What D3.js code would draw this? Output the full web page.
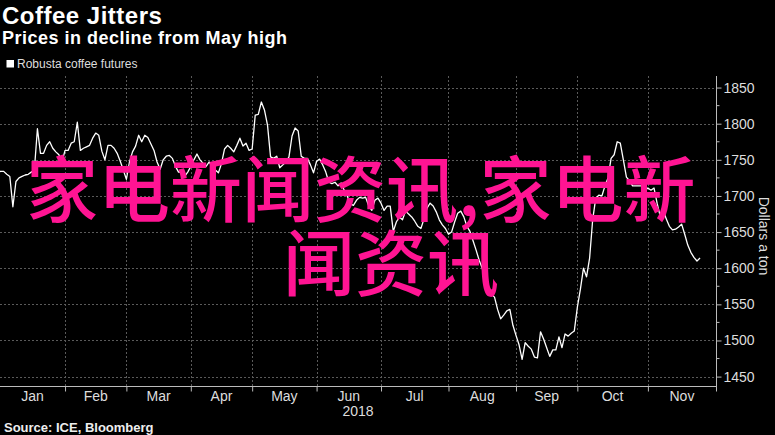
<!DOCTYPE html>
<html>
<head>
<meta charset="utf-8">
<script src="https://cdn.jsdelivr.net/npm/d3@7/dist/d3.min.js"></script>
<style>
  html, body { margin: 0; padding: 0; background: #000; }
  svg { display: block; }
</style>
</head>
<body>
<svg id="chart" width="775" height="435"></svg>
<script>
// ---- Data (trading-day index from 2 Jan 2018, Robusta futures $/ton) ----
const prices = [
  1733,1734,1734,1730,1727,1685,1720,1725,1727,1729,
  1730,1733,1736,1793,1759,1759,1770,1775,1766,1761,
  1757,1747,1763,1763,1773,1775,1802,1763,1766,1768,
  1770,1780,1787,1784,1762,1750,1770,1770,1766,1759,
  1748,1736,1723,1747,1761,1769,1784,1775,1784,1781,
  1772,1763,1747,1737,1750,1755,1756,1752,1741,1733,
  1733,1727,1733,1741,1750,1758,1750,1745,1741,1747,
  1740,1736,1732,1745,1765,1770,1766,1761,1770,1780,
  1769,1773,1763,1765,1812,1813,1830,1819,1798,1754,
  1752,1755,1739,1743,1747,1754,1783,1794,1790,1755,
  1752,1752,1743,1732,1748,1751,1743,1733,1719,1717,
  1719,1714,1718,1708,1700,1689,1687,1694,1698,1697,
  1698,1686,1680,1694,1697,1690,1680,1686,1686,1651,
  1664,1671,1667,1679,1675,1671,1665,1658,1655,1668,
  1683,1690,1686,1678,1667,1660,1655,1647,1650,1664,
  1676,1679,1671,1658,1651,1638,1625,1611,1600,1580,
  1563,1564,1560,1543,1530,1535,1541,1543,1521,1507,
  1494,1474,1497,1492,1488,1477,1476,1512,1502,1490,
  1478,1487,1487,1505,1490,1509,1506,1510,1513,1546,
  1571,1600,1588,1614,1667,1697,1701,1700,1714,1725,
  1752,1757,1775,1773,1750,1726,1721,1714,1714,1714,
  1714,1707,1711,1708,1711,1690,1672,1681,1668,1658,
  1653,1654,1657,1661,1647,1632,1622,1615,1610,1614
];
const months = ["Jan","Feb","Mar","Apr","May","Jun","Jul","Aug","Sep","Oct","Nov"];
const monthStartDay = [0,22,42,63,83,104,125,147,169,189,212];
const yTicks = [1450,1500,1550,1600,1650,1700,1750,1800,1850];
const yMinorTicks = [1475,1525,1575,1625,1675,1725,1775,1825];
const yearLabel = "2018";
const title = "Coffee Jitters";
const subtitle = "Prices in decline from May high";
const legendLabel = "Robusta coffee futures";
const yAxisTitle = "Dollars a ton";
const source = "Source: ICE, Bloomberg";
const overlayLines = ["家电新闻资讯,家电新", "闻资讯"];

// ---- Layout ----
const svg = d3.select("#chart");
const plot = { left: 0, right: 716, top: 76, bottom: 386 };
const dayDomain = [0.8, 234.2];
const x = d3.scaleLinear().domain(dayDomain).range([plot.left, plot.right]);
const y = d3.scaleLinear().domain([1437, 1866]).range([plot.bottom, plot.top]);
const FONT = "'Liberation Sans', Arial, sans-serif";

svg.append("rect").attr("width", 775).attr("height", 435).attr("fill", "#000");

// Titles
svg.append("text").attr("x", 2).attr("y", 23.5).text(title)
  .attr("fill", "#fff").attr("font-family", FONT).attr("font-weight", "bold")
  .attr("font-size", 24).attr("letter-spacing", 0.5);
svg.append("text").attr("x", 2).attr("y", 43.5).text(subtitle)
  .attr("fill", "#fff").attr("font-family", FONT).attr("font-weight", "bold")
  .attr("font-size", 18).attr("letter-spacing", 0.5);

// Legend
svg.append("rect").attr("x", 6.5).attr("y", 60).attr("width", 7.5).attr("height", 7.5).attr("fill", "#fff");
svg.append("text").attr("x", 17).attr("y", 68.3).text(legendLabel)
  .attr("fill", "#ddd").attr("font-family", FONT).attr("font-size", 12);

// Grid
const grid = svg.append("g").attr("stroke", "#5a5a5a").attr("stroke-width", 1).attr("stroke-dasharray", "2,2");
grid.selectAll("line.h").data(yTicks).join("line")
  .attr("x1", plot.left).attr("x2", plot.right)
  .attr("y1", d => Math.round(y(d)) + 0.5).attr("y2", d => Math.round(y(d)) + 0.5);
grid.selectAll("line.v").data(monthStartDay.slice(1)).join("line")
  .attr("x1", d => Math.round(x(d)) + 0.5).attr("x2", d => Math.round(x(d)) + 0.5)
  .attr("y1", plot.top).attr("y2", plot.bottom);

// Right axis
const yAxis = d3.axisRight(y).tickValues(yTicks).tickSize(5).tickPadding(2).tickFormat(d3.format("d"));
const gy = svg.append("g").attr("transform", `translate(${plot.right + 0.5},0)`).call(yAxis);
gy.select(".domain").attr("stroke", "#bbb").attr("d", `M0,${plot.top}V${plot.bottom}`);
gy.selectAll(".tick line").attr("stroke", "#bbb");
gy.selectAll(".tick text").attr("fill", "#ddd").attr("font-family", FONT).attr("font-size", 14);
const gyMinor = svg.append("g").attr("transform", `translate(${plot.right + 0.5},0)`);
gyMinor.selectAll("line").data(yMinorTicks).join("line")
  .attr("x1", 0).attr("x2", 3).attr("y1", d => y(d)).attr("y2", d => y(d)).attr("stroke", "#bbb");

svg.append("text").text(yAxisTitle)
  .attr("transform", `translate(759,236) rotate(90)`)
  .attr("text-anchor", "middle").attr("fill", "#ddd").attr("font-family", FONT).attr("font-size", 14);

// Bottom axis
const xAxis = d3.axisBottom(x).tickValues(monthStartDay.slice(1)).tickSize(5).tickFormat("");
const gx = svg.append("g").attr("transform", `translate(0,${plot.bottom + 0.5})`).call(xAxis);
gx.select(".domain").attr("stroke", "#bbb").attr("d", `M${plot.left},0H${plot.right + 1}`);
gx.selectAll(".tick line").attr("stroke", "#bbb");
gx.append("line").attr("x1", plot.right + 0.5).attr("x2", plot.right + 0.5).attr("y1", 0).attr("y2", 5).attr("stroke", "#bbb");

const monthCenters = months.map((m, k) => {
  const a = Math.max(monthStartDay[k], dayDomain[0]);
  const b = k + 1 < monthStartDay.length ? monthStartDay[k + 1] : dayDomain[1];
  return { m, c: (a + b) / 2 };
});
svg.append("g").selectAll("text").data(monthCenters).join("text")
  .attr("x", d => x(d.c)).attr("y", 400.5).attr("text-anchor", "middle").text(d => d.m)
  .attr("fill", "#ddd").attr("font-family", FONT).attr("font-size", 14);
svg.append("text").attr("x", x((dayDomain[0] + dayDomain[1]) / 2)).attr("y", 416)
  .attr("text-anchor", "middle").text(yearLabel)
  .attr("fill", "#ddd").attr("font-family", FONT).attr("font-size", 14);

// Price line
const line = d3.line().x((d, i) => x(i)).y(d => y(d));
svg.append("defs").append("clipPath").attr("id", "clip")
  .append("rect").attr("x", plot.left).attr("y", plot.top).attr("width", plot.right - plot.left).attr("height", plot.bottom - plot.top);
svg.append("path").datum(prices).attr("d", line).attr("clip-path", "url(#clip)")
  .attr("fill", "none").attr("stroke", "#fff").attr("stroke-width", 1.3).attr("stroke-linejoin", "round");

// Source
svg.append("text").attr("x", 4).attr("y", 431.5).text(source)
  .attr("fill", "#eee").attr("font-family", FONT).attr("font-weight", "bold").attr("font-size", 13);

// Pink overlay text
const overlay = svg.append("g").attr("fill", "#ff1493")
  .attr("font-family", "'Noto Sans CJK SC', sans-serif").attr("font-size", 72).attr("font-weight", 500);
overlay.append("text").attr("x", 26).attr("y", 216).text(overlayLines[0]);
overlay.append("text").attr("x", 283).attr("y", 290).text(overlayLines[1]);
</script>
</body>
</html>
